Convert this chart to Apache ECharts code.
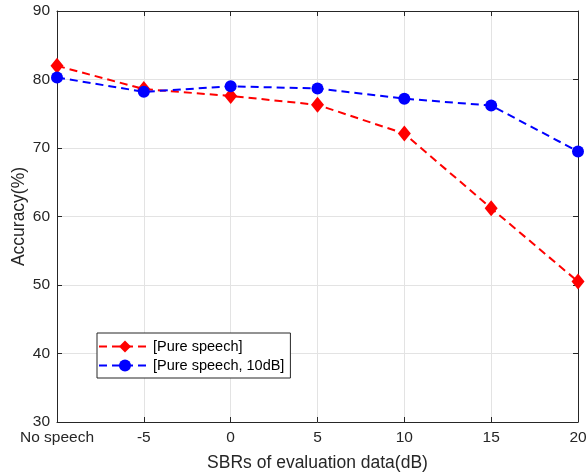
<!DOCTYPE html>
<html><head><meta charset="utf-8">
<script src="https://cdn.jsdelivr.net/npm/echarts@6/dist/echarts.min.js"></script>
<style>html,body{margin:0;padding:0;background:#fff}#c{width:587px;height:475px}</style>
</head><body><div id="c"></div>
<script>
var categories = ['No speech', '-5', '0', '5', '10', '15', '20'];
var pureSpeech = [82.0, 78.6, 77.6, 76.3, 72.1, 61.2, 50.5];
var pureSpeech10dB = [80.3, 78.2, 79.0, 78.7, 77.2, 76.2, 69.5];
var yTicks = [30, 40, 50, 60, 70, 80, 90];

var font = 'Liberation Sans, Arial, sans-serif';
var axisColor = '#262626';
var chart = echarts.init(document.getElementById('c'));
chart.setOption({
  animation: false,
  backgroundColor: '#fff',
  grid: {left: 57, right: 9, top: 11, bottom: 53, show: false, containLabel: false, outerBoundsMode: 'none'},
  legend: {
    orient: 'vertical', left: 97, top: 333,
    backgroundColor: '#fff', borderColor: axisColor, borderWidth: 1,
    padding: [6, 6, 5, 1], itemGap: 4, itemWidth: 52, itemHeight: 15,
    textStyle: {fontFamily: font, fontSize: 14.5, color: '#000', padding: [0, 0, 0, -3]},
    data: ['[Pure speech]', '[Pure speech, 10dB]']
  },
  xAxis: [{
    type: 'category', data: categories, boundaryGap: false,
    axisLine: {lineStyle: {color: axisColor, width: 1}},
    axisTick: {inside: true, length: 5, interval: 0, lineStyle: {color: axisColor}},
    axisLabel: {color: axisColor, fontFamily: font, fontSize: 15.5, margin: 8, interval: 0, hideOverlap: false},
    splitLine: {show: true, interval: 0, lineStyle: {color: '#e3e3e3', width: 1}},
    name: 'SBRs of evaluation data(dB)', nameLocation: 'middle', nameGap: 32, nameMoveOverlap: false,
    nameTextStyle: {fontFamily: font, fontSize: 17.5, color: axisColor}
  }, {
    type: 'category', data: categories, boundaryGap: false, position: 'top',
    axisLine: {lineStyle: {color: axisColor, width: 1}},
    axisTick: {inside: true, length: 5, interval: 0, lineStyle: {color: axisColor}},
    axisLabel: {show: false}, splitLine: {show: false}
  }],
  yAxis: [{
    type: 'value', min: 30, max: 90, interval: 10,
    axisLine: {show: true, lineStyle: {color: axisColor, width: 1}},
    axisTick: {show: true, inside: true, length: 5, lineStyle: {color: axisColor}},
    axisLabel: {color: axisColor, fontFamily: font, fontSize: 15.5, margin: 7,
      formatter: function (v) { return yTicks.indexOf(v) >= 0 ? String(v) : ''; }},
    splitLine: {show: true, lineStyle: {color: '#e3e3e3', width: 1}},
    name: 'Accuracy(%)', nameLocation: 'middle', nameGap: 29, nameMoveOverlap: false,
    nameTextStyle: {fontFamily: font, fontSize: 17.5, color: axisColor}
  }, {
    type: 'value', min: 30, max: 90, interval: 10, position: 'right',
    axisLine: {show: true, lineStyle: {color: axisColor, width: 1}},
    axisTick: {show: true, inside: true, length: 5, lineStyle: {color: axisColor}},
    axisLabel: {show: false}, splitLine: {show: false}
  }],
  series: [{
    name: '[Pure speech]', type: 'line', data: pureSpeech,
    symbol: 'diamond', symbolSize: [13, 16],
    lineStyle: {color: '#ff0000', width: 2, type: [8, 5]},
    itemStyle: {color: '#ff0000'}, z: 2
  }, {
    name: '[Pure speech, 10dB]', type: 'line', data: pureSpeech10dB,
    symbol: 'circle', symbolSize: 12,
    lineStyle: {color: '#0000ff', width: 2, type: [8, 5]},
    itemStyle: {color: '#0000ff'}, z: 3
  }]
});
</script></body></html>
